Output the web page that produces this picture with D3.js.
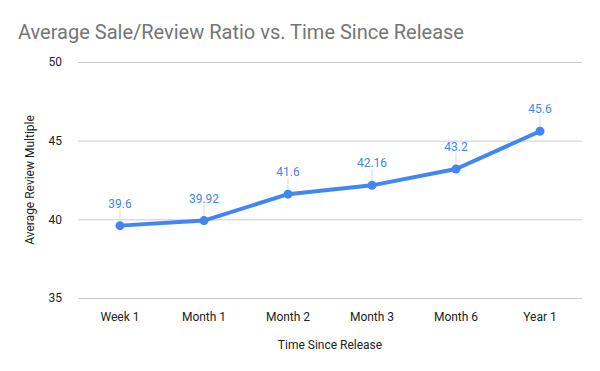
<!DOCTYPE html>
<html>
<head>
<meta charset="utf-8">
<script src="https://cdn.jsdelivr.net/npm/d3@7"></script>
<style>
body { margin: 0; background: #fff; }
text { font-family: Roboto, sans-serif; }
</style>
</head>
<body>
<div id="chart"></div>
<script>
const categories = ["Week 1", "Month 1", "Month 2", "Month 3", "Month 6", "Year 1"];
const values = [39.6, 39.92, 41.6, 42.16, 43.2, 45.6];
const labels = ["39.6", "39.92", "41.6", "42.16", "43.2", "45.6"];
const yTicks = [35, 40, 45, 50];

const width = 600, height = 371;
const margin = {top: 62, right: 18, bottom: 73, left: 78};

const svg = d3.select("#chart").append("svg")
    .attr("width", width)
    .attr("height", height);

const x = d3.scaleBand()
    .domain(categories)
    .range([margin.left, width - margin.right]);

const y = d3.scaleLinear()
    .domain([35, 50])
    .range([height - margin.bottom, margin.top]);

// title
svg.append("text")
    .attr("x", 18).attr("y", 39)
    .attr("font-size", 20)
    .attr("fill", "#757575")
    .text("Average Sale/Review Ratio vs. Time Since Release");

// gridlines + y labels
const yAxis = svg.append("g")
    .attr("transform", `translate(${margin.left},0)`)
    .call(d3.axisLeft(y).tickValues(yTicks).tickSize(-(width - margin.left - margin.right)).tickPadding(16));
yAxis.select(".domain").remove();
yAxis.selectAll("line").attr("stroke", "#cccccc");
yAxis.selectAll("text").attr("font-size", 12).attr("fill", "#222").attr("font-family", "Roboto, sans-serif");

// x labels
const xAxis = svg.append("g")
    .attr("transform", `translate(0,${height - margin.bottom})`)
    .call(d3.axisBottom(x).tickSize(0).tickPadding(14));
xAxis.select(".domain").remove();
xAxis.selectAll("text").attr("font-size", 12).attr("fill", "#222").attr("font-family", "Roboto, sans-serif");

// axis titles
svg.append("text")
    .attr("x", (margin.left + width - margin.right) / 2)
    .attr("y", 349)
    .attr("text-anchor", "middle")
    .attr("font-size", 12)
    .attr("fill", "#222")
    .text("Time Since Release");

svg.append("text")
    .attr("transform", `translate(34,${(margin.top + height - margin.bottom) / 2}) rotate(-90)`)
    .attr("text-anchor", "middle")
    .attr("font-size", 12)
    .attr("fill", "#222")
    .text("Average Review Multiple");

const cx = d => x(d) + x.bandwidth() / 2;

// leader lines
svg.append("g").selectAll("line")
    .data(values)
    .enter().append("line")
    .attr("x1", (d, i) => cx(categories[i]))
    .attr("x2", (d, i) => cx(categories[i]))
    .attr("y1", d => y(d))
    .attr("y2", d => y(d) - 16)
    .attr("stroke", "#d9d9d9")
    .attr("stroke-width", 1);

// line
const line = d3.line()
    .x((d, i) => cx(categories[i]))
    .y(d => y(d));

svg.append("path")
    .datum(values)
    .attr("d", line)
    .attr("fill", "none")
    .attr("stroke", "#4285f4")
    .attr("stroke-width", 4)
    .attr("stroke-linejoin", "round");

svg.append("g").selectAll("circle")
    .data(values)
    .enter().append("circle")
    .attr("cx", (d, i) => cx(categories[i]))
    .attr("cy", d => y(d))
    .attr("r", 4.5)
    .attr("fill", "#4285f4");

// data labels
svg.append("g").selectAll("text")
    .data(values)
    .enter().append("text")
    .attr("x", (d, i) => cx(categories[i]))
    .attr("y", d => y(d) - 18)
    .attr("text-anchor", "middle")
    .attr("font-size", 12)
    .attr("fill", "#4285f4")
    .text((d, i) => labels[i]);
</script>
</body>
</html>
